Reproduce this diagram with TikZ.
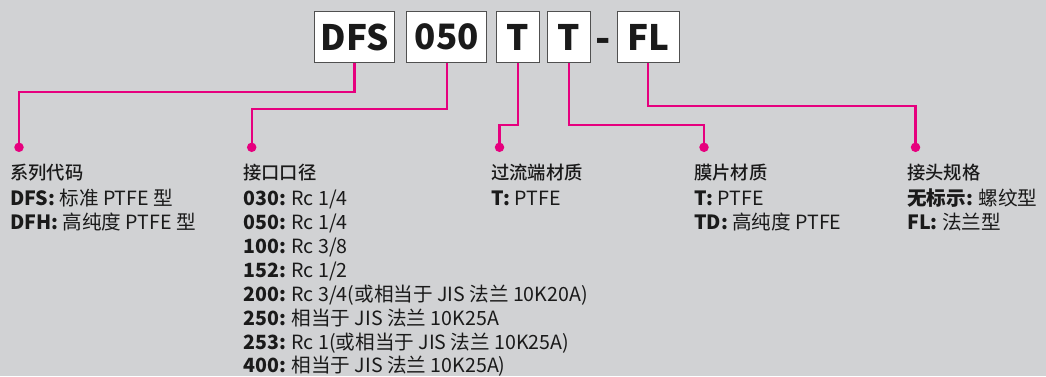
\documentclass[tikz,border=0pt]{standalone}
\usepackage{fontspec}
\setmainfont{Noto Sans CJK SC}
\newfontfamily\hdrfont{Noto Sans CJK SC Medium}
\definecolor{bg}{HTML}{D1D2D4}
\definecolor{mag}{HTML}{E6007E}
\definecolor{boxline}{HTML}{505050}
\definecolor{ink}{HTML}{1A1A1A}
\begin{document}
\begin{tikzpicture}[x=1pt,y=-1pt,
  codebox/.style={draw=boxline,line width=0.9pt,fill=white,minimum height=50.6pt,inner sep=0pt,text=ink,font=\fontsize{35}{35}\selectfont\bfseries},
  link/.style={draw=mag,line width=2.2pt},
  dot/.style={circle,fill=mag,inner sep=0pt,minimum size=9.5pt},
  txt/.style={anchor=base west,inner sep=0pt,text=ink,font=\fontsize{19.6}{24}\selectfont},
  hdr/.style={anchor=base west,inner sep=0pt,text=ink,font=\fontsize{18.3}{24}\selectfont\hdrfont}]
\fill[bg] (0,0) rectangle (1046,376);
\useasboundingbox (0,0) rectangle (1046,376);
% code boxes
\node[codebox,minimum width=79.6pt] (dfs) at (354.5,37) {DFS};
\node[codebox,minimum width=80pt] (n050) at (446.7,37) {050};
\node[codebox,minimum width=43pt] (t1) at (517.8,37) {T};
\node[codebox,minimum width=42.7pt] (t2) at (568.7,37) {T};
\node[anchor=base,inner sep=0pt,text=ink,font=\fontsize{40}{40}\selectfont\bfseries] (dash) at (603.5,52.5) {-};
\node[codebox,minimum width=62pt] (fl) at (648.3,37) {FL};
% dots
\node[dot] (d1) at (19,147.3) {};
\node[dot] (d2) at (251.7,147.3) {};
\node[dot] (d3) at (499.5,147.3) {};
\node[dot] (d4) at (704,147.3) {};
\node[dot] (d5) at (915.5,147.3) {};
% connectors
\draw[link] (dfs.south) -- (dfs.south |- 0,92.3) -| (d1.center);
\draw[link] (n050.south) -- (n050.south |- 0,109.3) -| (d2.center);
\draw[link] (t1.south) -- (t1.south |- 0,125) -| (d3.center);
\draw[link] (t2.south) -- (t2.south |- 0,125) -| (d4.center);
\draw[link] (fl.south) -- (fl.south |- 0,106) -| (d5.center);
% column 1
\node[hdr] (c1h) at (10,179) {系列代码};
\node[txt] (c1a) at (10,205) {\textbf{DFS:} 标准 PTFE 型};
\node[txt] (c1b) at (10,229) {\textbf{DFH:} 高纯度 PTFE 型};
% column 2
\node[hdr] (c2h) at (243,179) {接口口径};
\node[txt] (c2a) at (243,205) {\textbf{030:} Rc 1/4};
\node[txt] (c2b) at (243,229) {\textbf{050:} Rc 1/4};
\node[txt] (c2c) at (243,253) {\textbf{100:} Rc 3/8};
\node[txt] (c2d) at (243,277) {\textbf{152:} Rc 1/2};
\node[txt] (c2e) at (243,301) {\textbf{200:} Rc 3/4(或相当于 JIS 法兰 10K20A)};
\node[txt] (c2f) at (243,325) {\textbf{250:} 相当于 JIS 法兰 10K25A};
\node[txt] (c2g) at (243,349) {\textbf{253:} Rc 1(或相当于 JIS 法兰 10K25A)};
\node[txt] (c2i) at (243,372.5) {\textbf{400:} 相当于 JIS 法兰 10K25A)};
% column 3
\node[hdr] (c3h) at (491,179) {过流端材质};
\node[txt] (c3a) at (491,205) {\textbf{T:} PTFE};
% column 4
\node[hdr] (c4h) at (694,179) {膜片材质};
\node[txt] (c4a) at (694,205) {\textbf{T:} PTFE};
\node[txt] (c4b) at (694,229) {\textbf{TD:} 高纯度 PTFE};
% column 5
\node[hdr] (c5h) at (907,179) {接头规格};
\node[txt] (c5a) at (907,205) {\textbf{无标示:} 螺纹型};
\node[txt] (c5b) at (907,229) {\textbf{FL:} 法兰型};
\end{tikzpicture}
\end{document}
